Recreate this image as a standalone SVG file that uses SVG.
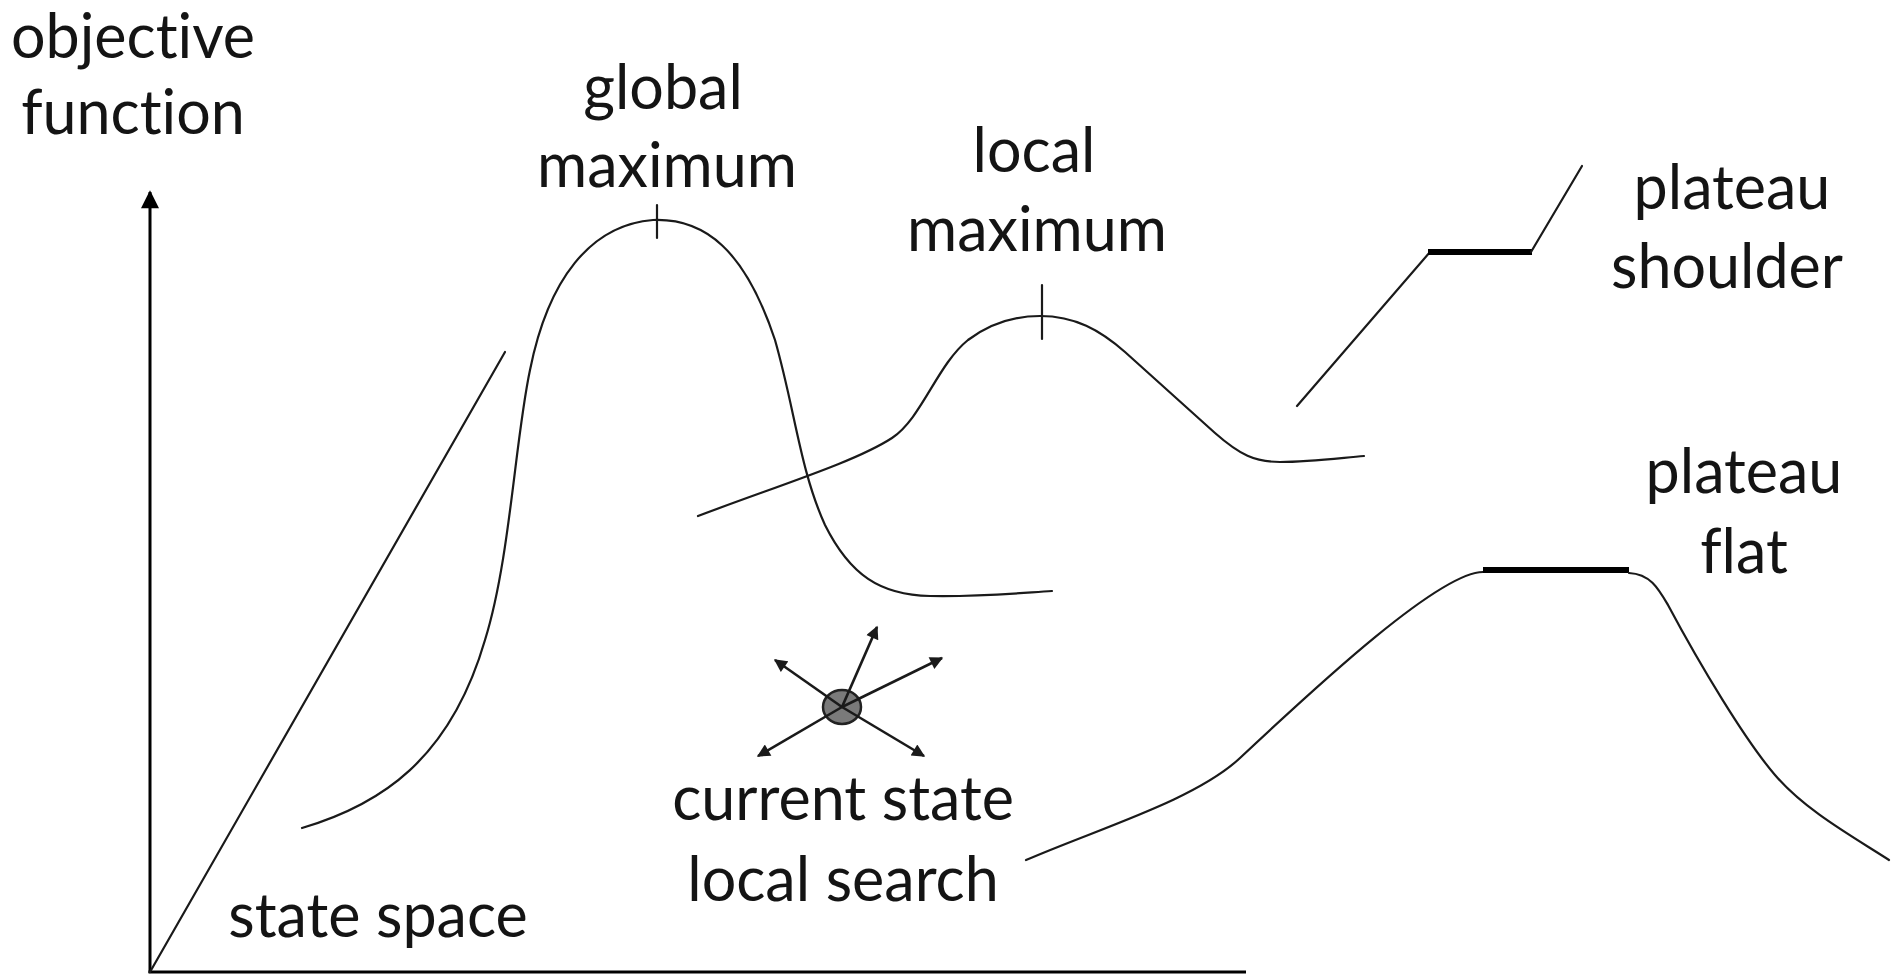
<svg xmlns="http://www.w3.org/2000/svg" width="1896" height="977" viewBox="0 0 1896 977">
<style>
.t{font-family:Lato,"Open Sans","Liberation Sans",sans-serif;font-size:61px;fill:#141414;text-anchor:middle;font-variant-ligatures:none;font-feature-settings:"liga" 0}
.c{fill:none;stroke:#1a1a1a;stroke-width:2.2;stroke-linecap:round;stroke-linejoin:round}
.ax{fill:none;stroke:#000;stroke-width:3}
.th{fill:none;stroke:#000;stroke-width:6}
.ar{fill:none;stroke:#1a1a1a;stroke-width:2.6}
</style>
<defs>
<marker id="ah" viewBox="0 0 10 10" refX="9" refY="5" markerWidth="5.5" markerHeight="5" orient="auto" markerUnits="strokeWidth">
<path d="M0,0 L10,5 L0,10 z" fill="#1a1a1a"/>
</marker>
<marker id="axh" viewBox="0 0 10 10" refX="9" refY="5" markerWidth="8" markerHeight="6" orient="auto" markerUnits="strokeWidth">
<path d="M0,0 L10,5 L0,10 z" fill="#000"/>
</marker>
</defs>
<rect width="1896" height="977" fill="#fff"/>
<g id="axes">
<line class="ax" x1="150" y1="973" x2="150" y2="192" marker-end="url(#axh)"/>
<line class="ax" x1="148.5" y1="972" x2="1246" y2="972"/>
</g>
<g id="connectors">
<path id="diagonal" class="c" d="M150,972 L505,352"/>
<path id="global-curve" class="c" d="M302,828 C380,805 450,760 485,640 C510,560 515,440 530,370 C548,280 590,225 653,220 C705,218 745,250 775,340 C795,410 800,470 825,525 C850,575 880,595 930,596 C980,597 1020,593 1052,591"/>
<line class="c" x1="657" y1="205" x2="657" y2="238"/>
<path id="local-curve" class="c" d="M698,516 C780,485 855,462 892,438 C922,418 937,365 968,340 C992,322 1015,316 1040,316 C1075,316 1100,330 1125,352 L1215,433 C1240,455 1255,462 1280,462 C1310,462 1340,458 1364,456"/>
<line class="c" x1="1042" y1="285" x2="1042" y2="339"/>
<path id="shoulder" class="c" d="M1297,406 L1430,252"/>
<line class="th" x1="1428" y1="252" x2="1532" y2="252"/>
<path class="c" d="M1531,252 L1582,166"/>
<path id="flat-curve" class="c" d="M1026,860 C1100,828 1195,800 1240,758 C1320,683 1440,572 1483,572"/>
<line class="th" x1="1483" y1="570" x2="1629" y2="570"/>
<path class="c" d="M1629,573 C1650,574 1658,588 1668,605 C1700,665 1745,740 1775,775 C1805,810 1850,835 1889,860"/>
</g>
<g id="current-state">
<ellipse cx="842" cy="707" rx="19" ry="17" fill="#7a7a7a" stroke="#222" stroke-width="2.5"/>
<line class="ar" x1="842" y1="707" x2="775" y2="660" marker-end="url(#ah)"/>
<line class="ar" x1="842" y1="707" x2="877" y2="627" marker-end="url(#ah)"/>
<line class="ar" x1="842" y1="707" x2="942" y2="658" marker-end="url(#ah)"/>
<line class="ar" x1="842" y1="707" x2="758" y2="756" marker-end="url(#ah)"/>
<line class="ar" x1="842" y1="707" x2="924" y2="756" marker-end="url(#ah)"/>
</g>
<g id="label-objective"><text class="t" x="133" y="58">objective</text><text class="t" x="133" y="134">function</text></g>
<g id="label-global"><text class="t" x="663" y="109">global</text><text class="t" x="667" y="187">maximum</text></g>
<g id="label-local"><text class="t" x="1034" y="172">local</text><text class="t" x="1037" y="251">maximum</text></g>
<g id="label-shoulder"><text class="t" x="1732" y="209">plateau</text><text class="t" x="1727" y="288">shoulder</text></g>
<g id="label-flat"><text class="t" x="1744" y="493">plateau</text><text class="t" x="1744" y="573">flat</text></g>
<g id="label-current"><text class="t" x="843" y="820">current state</text><text class="t" x="843" y="901">local search</text></g>
<g id="label-space"><text class="t" x="378" y="937">state space</text></g>
</svg>
